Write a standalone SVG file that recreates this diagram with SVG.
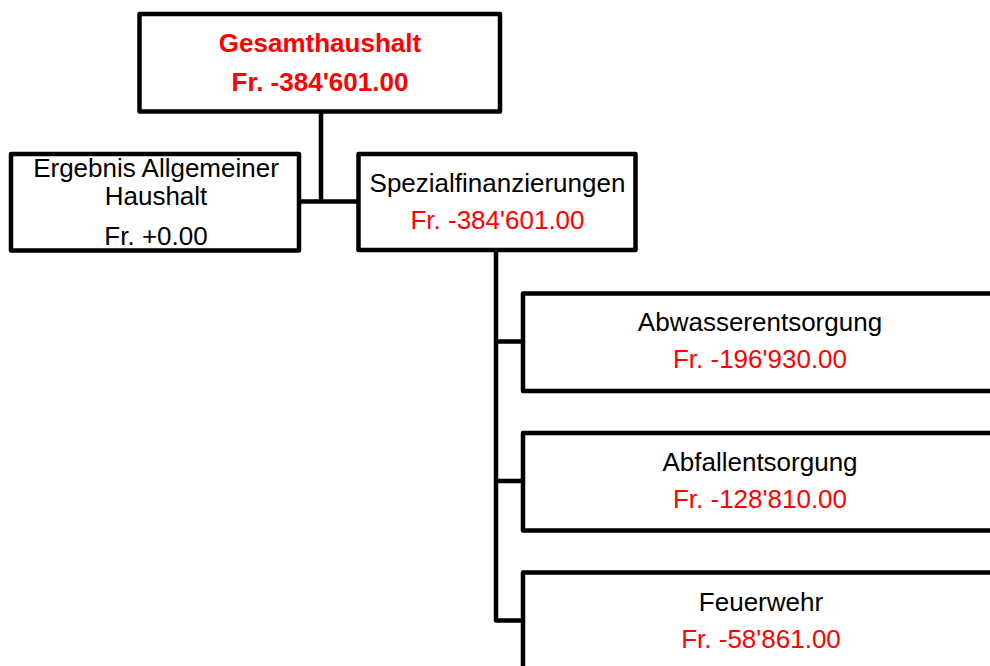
<svg xmlns="http://www.w3.org/2000/svg" width="990" height="666" viewBox="0 0 990 666">
<style>
.box{fill:#fff;stroke:#000;stroke-width:4.5;stroke-linejoin:round}
.con{fill:none;stroke:#000;stroke-width:4.5;stroke-linejoin:round}
text{font-family:"Liberation Sans",Arial,sans-serif;font-size:26px;text-anchor:middle}
.b{font-weight:bold}
.k{fill:#000}
.r{fill:#ff0000}
</style>
<rect width="990" height="666" fill="#fff"/>
<g id="connectors">
<path class="con" d="M321,111.5 V201.5 M299,201.5 H358.5"/>
<path class="con" d="M496,250 V620.5 H523 M496,341.5 H523 M496,481 H523"/>
</g>
<g id="gesamthaushalt">
<rect class="box" x="139.5" y="14" width="360.5" height="97.5"/>
<text class="b r" x="320" y="51.5">Gesamthaushalt</text>
<text class="b r" x="320" y="90.5">Fr. -384'601.00</text>
</g>
<g id="allgemeiner-haushalt">
<rect class="box" x="11" y="154" width="288" height="96.5"/>
<text class="k" x="156" y="177">Ergebnis Allgemeiner</text>
<text class="k" x="156" y="205">Haushalt</text>
<text class="k" x="156" y="245">Fr. +0.00</text>
</g>
<g id="spezialfinanzierungen">
<rect class="box" x="358.5" y="154" width="277" height="96"/>
<text class="k" x="497.5" y="192">Spezialfinanzierungen</text>
<text class="r" x="497.5" y="229">Fr. -384'601.00</text>
</g>
<g id="abwasserentsorgung">
<rect class="box" x="523" y="293.5" width="472" height="97.5"/>
<text class="k" x="760" y="331">Abwasserentsorgung</text>
<text class="r" x="760" y="368">Fr. -196'930.00</text>
</g>
<g id="abfallentsorgung">
<rect class="box" x="523" y="433" width="472" height="97.5"/>
<text class="k" x="760" y="471">Abfallentsorgung</text>
<text class="r" x="760" y="508">Fr. -128'810.00</text>
</g>
<g id="feuerwehr">
<rect class="box" x="523" y="572.5" width="472" height="97.5"/>
<text class="k" x="761" y="611">Feuerwehr</text>
<text class="r" x="761" y="648">Fr. -58'861.00</text>
</g>
</svg>
